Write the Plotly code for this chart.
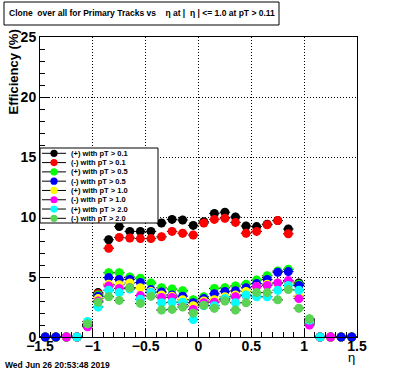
import plotly.graph_objects as go

eta = [-1.45, -1.35, -1.25, -1.15, -1.05, -0.95, -0.85, -0.75, -0.65, -0.55,
       -0.45, -0.35, -0.25, -0.15, -0.05, 0.05, 0.15, 0.25, 0.35, 0.45,
       0.55, 0.65, 0.75, 0.85, 0.95, 1.05, 1.15, 1.25, 1.35, 1.45]

pos_pt01 = [0, 0, 0, 0, 1.0, 3.7, 8.1, 9.2, 8.8, 8.8, 8.8, 9.5, 9.8, 9.75, 9.3,
            9.6, 10.3, 10.4, 10.0, 9.25, 9.2, 9.4, 9.7, 9.0, 4.5, 1.4, 0, 0, 0, 0]
neg_pt01 = [0, 0, 0, 0, 0.9, 3.6, 7.4, 8.3, 8.25, 8.2, 8.2, 8.35, 8.8, 8.65, 8.5,
            9.5, 9.8, 9.9, 9.55, 8.65, 8.8, 9.35, 9.7, 8.6, 4.3, 1.1, 0, 0, 0, 0]
pos_pt05 = [0, 0, 0, 0, 1.0, 3.5, 5.35, 5.35, 5.0, 4.9, 4.5, 4.1, 4.0, 3.85, 3.1,
            3.35, 4.05, 4.1, 4.25, 4.4, 4.75, 5.1, 5.5, 5.65, 4.4, 1.5, 0, 0, 0, 0]
neg_pt05 = [0, 0, 0, 0, 1.0, 3.4, 4.95, 4.8, 4.8, 4.55, 3.95, 3.75, 3.5, 3.4, 2.85,
            3.2, 3.6, 3.8, 3.85, 4.1, 4.45, 4.8, 5.4, 5.45, 4.3, 1.3, 0, 0, 0, 0]
pos_pt10 = [None, None, 0, 0, 1.0, 3.2, 4.4, 4.35, 4.5, 4.1, 3.8, 3.5, 3.4, 3.1, 2.6,
            3.0, 3.1, 3.35, 3.5, 3.8, 4.2, 4.4, 4.5, 4.6, 3.4, 1.2, 0, 0, None, None]
neg_pt10 = [None, None, 0, 0, 0.85, 3.0, 4.25, 4.05, 4.1, 3.45, 3.7, 3.3, 3.3, 2.7, 2.3,
            2.85, 2.9, 3.15, 3.35, 3.45, 4.2, 4.3, 4.5, 4.7, 3.2, 1.0, 0, 0, None, None]
pos_pt20 = [None, None, None, 0, 1.3, 2.5, 3.9, 3.7, 4.0, 3.15, 3.7, 2.85, 2.9, 2.9, 1.45,
            2.6, 2.6, 3.2, 2.85, 3.5, 3.35, 3.35, 3.9, 4.3, 3.9, 1.4, 0, None, None, None]
neg_pt20 = [None, None, None, None, 1.1, 2.9, 3.35, 3.05, 4.1, 2.8, 3.4, 2.25, 2.3, 2.5, 2.0,
            2.65, 2.4, 3.0, 2.25, 2.85, 3.7, 3.7, 3.1, 3.95, 2.4, 1.5, None, None, None, None]

series_names = ["(+) with pT > 0.1", "(-) with pT > 0.1", "(+) with pT > 0.5",
                "(-) with pT > 0.5", "(+) with pT > 1.0", "(-) with pT > 1.0",
                "(+) with pT > 2.0", "(-) with pT > 2.0"]
series_values = [pos_pt01, neg_pt01, pos_pt05, neg_pt05, pos_pt10, neg_pt10, pos_pt20, neg_pt20]
colors = ["#000000", "#ff0000", "#00ff00", "#0000ff", "#ffff00", "#ff00ff", "#00ffff", "#59d454"]

title_text = "Clone  over all for Primary Tracks vs    \u03b7 at |  \u03b7 | <= 1.0 at pT > 0.11"
date_text = "Wed Jun 26 20:53:48 2019"

FONT = "Liberation Sans"

# plot-area geometry in pixels (for paper-coordinate conversions)
L, R, T, B = 40, 357, 37, 337
W, H = R - L, B - T


def px(x):
    return (x - L) / W


def py(y):
    return (B - y) / H


fig = go.Figure()
for name, vals, col in zip(series_names, series_values, colors):
    fig.add_trace(go.Scatter(
        x=eta, y=vals, mode="markers", name=name, showlegend=False,
        marker=dict(symbol="circle", size=9, color=col, line=dict(width=0)),
        error_x=dict(type="constant", value=0.05, color="black", thickness=1, width=0),
        error_y=dict(type="constant", value=0.35, color="black", thickness=1, width=0),
        cliponaxis=False, hoverinfo="skip",
    ))

shapes = []
annotations = []

# title box
shapes.append(dict(type="rect", xref="paper", yref="paper",
                   x0=px(4), x1=px(279), y0=py(25), y1=py(2),
                   line=dict(color="black", width=1), fillcolor="white", layer="above"))
annotations.append(dict(text="<b>" + title_text + "</b>", xref="paper", yref="paper",
                        x=px(142), y=py(13.5), showarrow=False,
                        font=dict(family=FONT, size=8.5, color="black"),
                        xanchor="center", yanchor="middle"))

# legend box
shapes.append(dict(type="rect", xref="paper", yref="paper",
                   x0=px(40), x1=px(158), y0=py(223), y1=py(148),
                   line=dict(color="black", width=1), fillcolor="white", layer="above"))
for i, (name, col) in enumerate(zip(series_names, colors)):
    yy = 153.3 + 9.29 * i
    shapes.append(dict(type="line", xref="paper", yref="paper",
                       x0=px(42), x1=px(66), y0=py(yy), y1=py(yy),
                       line=dict(color="black", width=1), layer="above"))
    shapes.append(dict(type="circle", xref="paper", yref="paper",
                       xsizemode="pixel", ysizemode="pixel",
                       xanchor=px(54), yanchor=py(yy),
                       x0=-3.6, x1=3.6, y0=-3.6, y1=3.6,
                       line=dict(width=0), fillcolor=col, layer="above"))
    annotations.append(dict(text="<b>" + name + "</b>", xref="paper", yref="paper",
                            x=px(69), y=py(yy), showarrow=False,
                            font=dict(family=FONT, size=7.5, color="black"),
                            xanchor="left", yanchor="middle"))

# axis titles
annotations.append(dict(text="<b>Efficiency (%)</b>", xref="paper", yref="paper",
                        x=px(13), y=py(28), showarrow=False, textangle=-90,
                        font=dict(family=FONT, size=13, color="black"),
                        xanchor="center", yanchor="top"))
annotations.append(dict(text="\u03b7", xref="paper", yref="paper",
                        x=px(351), y=py(357), showarrow=False,
                        font=dict(family=FONT, size=13, color="black"),
                        xanchor="center", yanchor="middle"))
annotations.append(dict(text="<b>" + date_text + "</b>", xref="paper", yref="paper",
                        x=px(3), y=py(365), showarrow=False,
                        font=dict(family=FONT, size=8.5, color="black"),
                        xanchor="left", yanchor="middle"))

axis_common = dict(ticks="inside", ticklen=9, tickcolor="black", showline=True,
                   linecolor="black", linewidth=1, mirror=True, zeroline=False,
                   showgrid=True, gridcolor="black", griddash="1px,2px", gridwidth=1,
                   tickfont=dict(family=FONT, size=14, color="black", weight="bold"))

fig.update_layout(
    width=396, height=372,
    margin=dict(l=L, r=396 - R, t=T, b=372 - B, pad=0),
    paper_bgcolor="white", plot_bgcolor="white",
    showlegend=False, hovermode=False,
    shapes=shapes, annotations=annotations,
    xaxis=dict(range=[-1.5, 1.5], dtick=0.5, tick0=-1.5, ticklabelstandoff=-4,
               minor=dict(dtick=0.1, ticks="inside", ticklen=5, tickcolor="black",
                          showgrid=False), **axis_common),
    yaxis=dict(range=[0, 25], dtick=5, tick0=0,
               minor=dict(dtick=1, ticks="inside", ticklen=5, tickcolor="black",
                          showgrid=False), **axis_common),
)

fig.write_html("out.html", config={"displayModeBar": False, "staticPlot": True},
               post_script="document.body.style.margin='0';document.body.style.padding='0';")
